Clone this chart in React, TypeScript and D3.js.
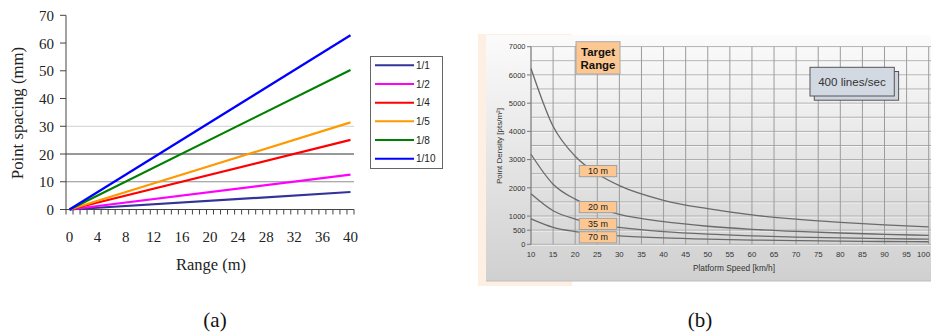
import * as d3 from "d3";

// panel (a): point spacing vs range
const rangeTicks = [0, 4, 8, 12, 16, 20, 24, 28, 32, 36, 40];
const rangeEnds = [0, 40];
const ratios = ["1/1", "1/2", "1/4", "1/5", "1/8", "1/10"];
const spacing = [
  [0, 6.3],
  [0, 12.6],
  [0, 25.1],
  [0, 31.4],
  [0, 50.3],
  [0, 62.8],
];
const spacingTicks = [0, 10, 20, 30, 40, 50, 60, 70];

// panel (b): point density vs platform speed
const speeds = [10, 15, 20, 25, 30, 40, 50, 60, 70, 80, 90, 100];
const targetRanges = ["10 m", "20 m", "35 m", "70 m"];
const density10 = [6230, 4180, 3120, 2500, 2080, 1560, 1260, 1040, 890, 780, 690, 620];
const density20 = [3190, 2130, 1600, 1280, 1060, 800, 640, 530, 455, 400, 355, 315];
const density35 = [1790, 1190, 895, 715, 600, 450, 360, 300, 255, 225, 200, 180];
const density70 = [900, 600, 450, 360, 300, 225, 180, 150, 130, 112, 100, 90];
const speedTicks = [10, 15, 20, 25, 30, 35, 40, 45, 50, 55, 60, 65, 70, 75, 80, 85, 90, 95, 100];
const densityLabels = [0, 500, 1000, 2000, 3000, 4000, 5000, 6000, 7000];
const densityGrid = [0, 500, 1000, 1500, 2000, 2500, 3000, 3500, 4000, 4500, 5000, 5500, 6000, 6500, 7000];

const colorsA = ["#333399", "#ff00ff", "#ff0000", "#ff9900", "#008000", "#0000ff"];
const serif = "'Liberation Serif', 'Times New Roman', serif";
const sans = "'Liberation Sans', Arial, sans-serif";

function PanelA() {
  const cats = d3.range(rangeEnds[0], rangeEnds[1] + 1);
  const x = d3.scaleBand<number>().domain(cats).range([66, 354]);
  const cx = (v: number) => (x(v) ?? 0) + x.bandwidth() / 2;
  const y = d3.scaleLinear().domain([0, 70]).range([209.5, 15.3]);
  const line = d3
    .line<number>()
    .x((_d, i) => cx(rangeEnds[i]))
    .y((d) => y(d));
  const gridColors: Record<number, string> = { 10: "#8f8f8f", 20: "#333", 30: "#cfcfcf" };
  const edges = cats.map((c) => x(c) ?? 0).concat([354]);

  return (
    <g>
      {[10, 20, 30].map((t) => (
        <line key={t} x1={66} x2={354} y1={y(t)} y2={y(t)} stroke={gridColors[t]} strokeWidth={1} />
      ))}
      <line x1={66} x2={66} y1={y(70)} y2={y(0)} stroke="#444" />
      <line x1={66} x2={354} y1={y(0)} y2={y(0)} stroke="#444" />
      {spacingTicks.map((t) => (
        <g key={t}>
          <line x1={60} x2={66} y1={y(t)} y2={y(t)} stroke="#444" />
          <text x={54} y={y(t) + 5.5} textAnchor="end" fontFamily={serif} fontSize={15} fill="#222">
            {t}
          </text>
        </g>
      ))}
      {edges.map((e, i) => (
        <line key={i} x1={e} x2={e} y1={y(0)} y2={y(0) + 5} stroke="#444" />
      ))}
      {rangeTicks.map((t) => (
        <text key={t} x={cx(t)} y={242} textAnchor="middle" fontFamily={serif} fontSize={15} fill="#222">
          {t}
        </text>
      ))}
      {spacing.map((s, i) => (
        <path key={ratios[i]} d={line(s) ?? ""} fill="none" stroke={colorsA[i]} strokeWidth={2.2} />
      ))}
      <text x={211} y={270} textAnchor="middle" fontFamily={serif} fontSize={16.5} fill="#222">
        Range (m)
      </text>
      <text
        transform="translate(23,113) rotate(-90)"
        textAnchor="middle"
        fontFamily={serif}
        fontSize={16.8}
        fill="#222"
      >
        Point spacing (mm)
      </text>
      <rect x={370.5} y={56.5} width={72} height={112} fill="#fff" stroke="#666" />
      {ratios.map((r, i) => (
        <g key={r} transform={`translate(0,${65.3 + i * 18.67})`}>
          <line x1={375} x2={414} y1={0} y2={0} stroke={colorsA[i]} strokeWidth={2} />
          <text x={416} y={3.6} fontFamily={sans} fontSize={10} fill="#222">
            {r}
          </text>
        </g>
      ))}
    </g>
  );
}

function PanelB() {
  const x = d3.scaleLinear().domain([10, 100]).range([531, 928.7]);
  const y = d3.scaleLinear().domain([0, 7000]).range([244.3, 46.7]);
  const curve = d3
    .line<number>()
    .x((_d, i) => x(speeds[i]))
    .y((d) => y(d))
    .curve(d3.curveMonotoneX);
  const series = [density10, density20, density35, density70];
  const labelTops = [165.5, 201.5, 218.3, 231.7];

  return (
    <g>
      <defs>
        <linearGradient id="panelGrad" x1="0" y1="0" x2="0" y2="1">
          <stop offset="0" stopColor="#fbfbfb" />
          <stop offset="1" stopColor="#d0d0d0" />
        </linearGradient>
      </defs>
      <rect x={478} y={34} width={94} height={252} fill="#fdf0e3" />
      <rect x={486} y={35} width={445} height={246} fill="url(#panelGrad)" />
      <line x1={486} x2={931} y1={281} y2={281} stroke="#bdbdbd" />
      {densityGrid.map((t) => (
        <g key={t}>
          <line x1={x(10)} x2={931} y1={y(t)} y2={y(t)} stroke="#a9a9a9" />
          <line x1={x(10)} x2={931} y1={y(t) + 1} y2={y(t) + 1} stroke="#fff" strokeOpacity={0.6} />
        </g>
      ))}
      {speedTicks.map((t) => (
        <line key={t} x1={x(t)} x2={x(t)} y1={y(7000)} y2={y(0)} stroke="#9c9c9c" />
      ))}
      <line x1={x(10)} x2={x(10)} y1={y(7000)} y2={y(0)} stroke="#888" />
      {densityLabels.map((t) => (
        <g key={t}>
          <line x1={527} x2={531} y1={y(t)} y2={y(t)} stroke="#777" />
          <text x={525.5} y={y(t) + 2.7} textAnchor="end" fontFamily={sans} fontSize={7.5} fill="#333">
            {t}
          </text>
        </g>
      ))}
      {speedTicks.map((t) => {
        const last = t === speedTicks[speedTicks.length - 1];
        return (
          <text
            key={t}
            x={last ? 930 : x(t)}
            y={257.3}
            textAnchor={last ? "end" : "middle"}
            fontFamily={sans}
            fontSize={7.8}
            fill="#333"
          >
            {t}
          </text>
        );
      })}
      {series.map((s, i) => (
        <path key={targetRanges[i]} d={curve(s) ?? ""} fill="none" stroke="#6a6a6a" strokeWidth={1.3} />
      ))}
      <text x={734} y={270.7} textAnchor="middle" fontFamily={sans} fontSize={8.3} fill="#333">
        Platform Speed [km/h]
      </text>
      <text
        transform="translate(502,146) rotate(-90)"
        textAnchor="middle"
        fontFamily={sans}
        fontSize={8}
        fill="#333"
      >
        Point Density [pts/m²]
      </text>
      <rect x={576} y={41.7} width={44} height={32.3} fill="#fcc791" stroke="#a8a8a8" />
      <text x={598} y={56} textAnchor="middle" fontFamily={sans} fontWeight="bold" fontSize={11.4} fill="#111">
        Target
      </text>
      <text x={598} y={68.6} textAnchor="middle" fontFamily={sans} fontWeight="bold" fontSize={11.4} fill="#111">
        Range
      </text>
      {targetRanges.map((r, i) => (
        <g key={r}>
          <rect x={579.3} y={labelTops[i]} width={37.4} height={11.2} fill="#fcc791" stroke="#a0a0a0" />
          <text x={598} y={labelTops[i] + 8.6} textAnchor="middle" fontFamily={sans} fontSize={9} fill="#222">
            {r}
          </text>
        </g>
      ))}
      <rect x={814.3} y={71.5} width={84.3} height={28.7} fill="#cfd5df" stroke="#555" />
      <rect x={810} y={67.3} width={84.3} height={28.7} fill="#d3d9e3" stroke="#555" />
      <text x={852} y={85.8} textAnchor="middle" fontFamily={sans} fontSize={11.6} fill="#333">
        400 lines/sec
      </text>
    </g>
  );
}

export default function App() {
  return (
    <svg
      width={931}
      height={334}
      viewBox="0 0 931 334"
      style={{ position: "absolute", left: 0, top: 0, background: "#fff" }}
    >
      <rect width={931} height={334} fill="#fff" />
      <PanelA />
      <PanelB />
      <text x={215} y={327} textAnchor="middle" fontFamily={serif} fontSize={21} fill="#111">
        (a)
      </text>
      <text x={700} y={327} textAnchor="middle" fontFamily={serif} fontSize={21} fill="#111">
        (b)
      </text>
    </svg>
  );
}
